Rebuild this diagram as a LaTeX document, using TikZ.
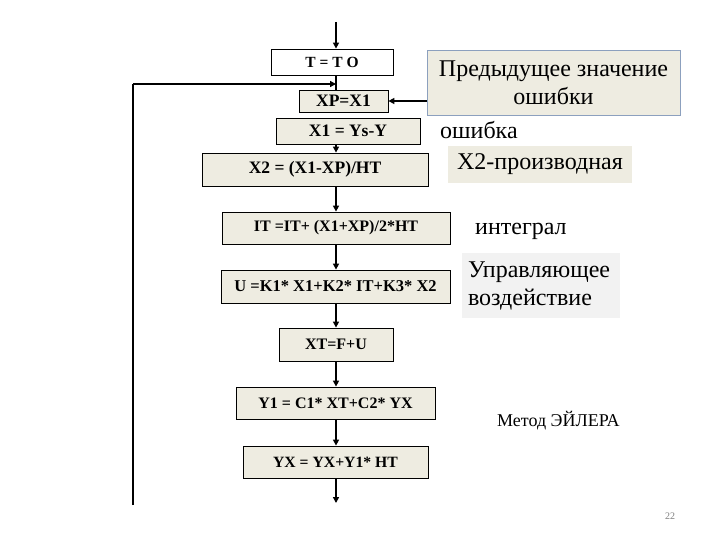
\documentclass[tikz,border=0pt]{standalone}
\usepackage{fontspec}
\setmainfont{Liberation Serif}
\usetikzlibrary{arrows.meta}
\definecolor{beige}{HTML}{EEECE1}
\definecolor{lgray}{HTML}{F2F2F2}
\definecolor{nborder}{RGB}{140,160,190}
\tikzset{
  fbox/.style={draw=black, line width=0.8pt, fill=beige, inner sep=0pt, font=\bfseries},
  arr/.style={line width=1.8pt, -{Triangle[length=6pt,width=6pt]}},
  plain/.style={line width=1.8pt},
  fb/.style={line width=1.2pt},
  lbl/.style={anchor=base west, inner sep=0pt, font=\fontsize{24}{26}\selectfont},
}
\begin{document}
\begin{tikzpicture}[x=1pt,y=-1pt]
\useasboundingbox[fill=white] (0,0) rectangle (720,540);
% flow boxes
\node[fbox, fill=white, minimum width=122pt, minimum height=26pt, font=\bfseries\fontsize{15.5}{17}\selectfont] (T) at (332,62) {T = T O};
\node[fbox, minimum width=89pt, minimum height=22pt, font=\bfseries\fontsize{17.5}{19}\selectfont] (XP) at (343.5,101) {XP=X1};
\node[fbox, minimum width=144pt, minimum height=26pt, font=\bfseries\fontsize{17.5}{19}\selectfont] (X1) at (348,131) {X1 = Ys-Y};
\node[fbox, minimum width=226pt, minimum height=33pt, font=\bfseries\fontsize{17.5}{19}\selectfont] (X2) at (315,169.5) {X2 = (X1-XP)/HT};
\node[fbox, minimum width=228pt, minimum height=32pt, font=\bfseries\fontsize{16}{18}\selectfont] (IT) at (336,228) {IT =IT+ (X1+XP)/2*HT};
\node[fbox, minimum width=229pt, minimum height=33pt, font=\bfseries\fontsize{16.5}{18}\selectfont] (U) at (335.5,286.5) {U =K1* X1+K2* IT+K3* X2};
\node[fbox, minimum width=114pt, minimum height=33pt, font=\bfseries\fontsize{16}{18}\selectfont] (XT) at (336,344.5) {XT=F+U};
\node[fbox, minimum width=199pt, minimum height=32pt, font=\bfseries\fontsize{16}{18}\selectfont] (Y1) at (335.5,403) {Y1 = C1* XT+C2* YX};
\node[fbox, minimum width=185pt, minimum height=32pt, font=\bfseries\fontsize{15.7}{18}\selectfont] (YX) at (335.5,462) {YX = YX+Y1* HT};
% notes
\node[draw=nborder, line width=0.8pt, fill=beige, minimum width=253pt, minimum height=65pt, inner sep=0pt, align=center, font=\fontsize{24}{28}\selectfont] (note) at (553.5,82.5) {Предыдущее значение\\ошибки};
\node[lbl] (err) at (440,139) {ошибка};
\node[fill=beige, minimum width=184pt, minimum height=37pt, inner sep=0pt, font=\fontsize{24}{26}\selectfont] (der) at (540,164.5) {X2-производная};
\node[lbl] (int) at (475,235) {интеграл};
\node[fill=lgray, minimum height=65pt, inner xsep=6pt, inner ysep=0pt, text width=146pt, align=left, font=\fontsize{24}{28}\selectfont] (ctrl) at (541,285.5) {Управляющее\\воздействие};
\node[anchor=base west, inner sep=0pt, font=\fontsize{18}{20}\selectfont] (euler) at (497,426) {Метод ЭЙЛЕРА};
\node[inner sep=0pt, text=gray, font=\fontsize{10}{12}\selectfont] (page) at (670,516) {22};
% coordinates
\coordinate (top) at (336,22);
\coordinate (fj) at (336,84);
\coordinate (fbot) at (133,505);
\coordinate (bot) at (336,503);
% connectors
\draw[arr] (top) -- (top |- T.north);
\draw[plain] (T.south -| top) -- (XP.north -| top);
\draw[fb] (fbot) -- (fbot |- fj);
\draw[arr, line width=1.4pt] (fbot |- fj) -- (fj);
\draw[arr] (note.west |- XP) -- (XP.east);
\draw[arr] (X1.south -| top) -- (X2.north -| top);
\draw[arr] (X2.south -| top) -- (IT.north -| top);
\draw[arr] (IT.south -| top) -- (U.north -| top);
\draw[arr] (U.south -| top) -- (XT.north -| top);
\draw[arr] (XT.south -| top) -- (Y1.north -| top);
\draw[arr] (Y1.south -| top) -- (YX.north -| top);
\draw[arr] (YX.south -| top) -- (bot);
\end{tikzpicture}
\end{document}
